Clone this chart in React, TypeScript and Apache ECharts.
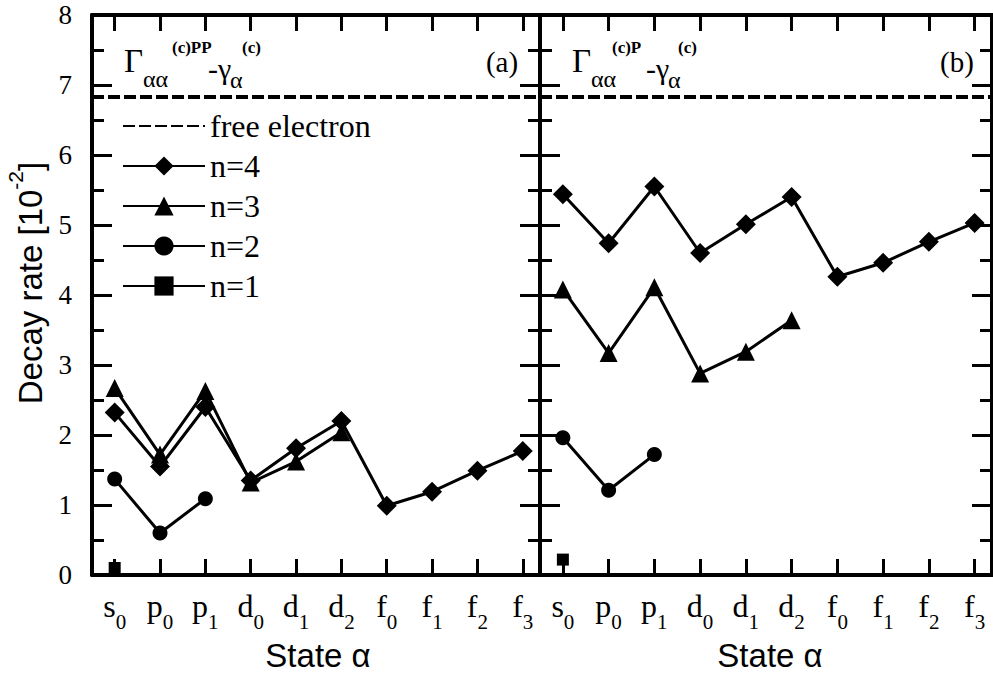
import React, { useEffect, useRef } from "react";
import * as echarts from "echarts";

// Orbital states on the horizontal axis: letter + subscript index
const stateLetters = ["s", "p", "p", "d", "d", "d", "f", "f", "f", "f"];
const stateIndices = ["0", "0", "1", "0", "1", "2", "0", "1", "2", "3"];
const statePositions = [0, 1, 2, 3, 4, 5, 6, 7, 8, 9];

// Free-electron reference decay rate [10^-2]
const freeElectron = 6.83;

// Panel (a): Γ_αα^(c)PP − γ_α^(c)
const ppN4 = [2.32, 1.55, 2.4, 1.35, 1.81, 2.2, 0.99, 1.19, 1.49, 1.77];
const ppN3 = [2.67, 1.72, 2.63, 1.32, 1.62, 2.04];
const ppN2 = [1.37, 0.6, 1.09];
const ppN1 = [0.1];

// Panel (b): Γ_αα^(c)P − γ_α^(c)
const pN4 = [5.44, 4.74, 5.55, 4.6, 5.01, 5.4, 4.26, 4.46, 4.76, 5.03];
const pN3 = [4.08, 3.17, 4.11, 2.88, 3.19, 3.64];
const pN2 = [1.96, 1.21, 1.72];
const pN1 = [0.22];

const seriesNames = ["n=4", "n=3", "n=2", "n=1"];
const seriesSymbols = ["diamond", "triangle", "circle", "rect"];
const seriesSymbolSizes = [20, 18, 15, 12];

const SERIF = '"Liberation Serif", "Times New Roman", serif';
const SANS = '"Liberation Sans", Arial, sans-serif';
const INK = "#000";

function toPoints(values: number[]): number[][] {
  return values.map((v, i) => [i, v]);
}

function xAxisPair(gridIndex: number) {
  const common = {
    type: "value" as const,
    gridIndex,
    min: -0.5,
    max: 9.38,
    axisLine: { show: true, onZero: false, lineStyle: { color: INK, width: 4 } },
    axisTick: {
      show: true,
      inside: true,
      length: 16,
      customValues: statePositions,
      lineStyle: { color: INK, width: 3 },
    },
    splitLine: { show: false },
  };
  return [
    {
      ...common,
      position: "bottom",
      axisLabel: {
        show: true,
        customValues: statePositions,
        margin: 5,
        color: INK,
        formatter: (v: number) => {
          const i = Math.round(v);
          return `{m|${stateLetters[i]}}{s|${stateIndices[i]}}`;
        },
        rich: {
          m: { fontFamily: SERIF, fontSize: 32, lineHeight: 52, color: INK },
          s: {
            fontFamily: SERIF,
            fontSize: 21,
            lineHeight: 21,
            verticalAlign: "bottom",
            color: INK,
          },
        },
      },
    },
    {
      ...common,
      position: "top",
      axisLabel: { show: false },
    },
  ];
}

function yAxisPair(gridIndex: number, withLabels: boolean) {
  const common = {
    type: "value" as const,
    gridIndex,
    min: 0,
    max: 8,
    interval: 1,
    axisLine: { show: true, onZero: false, lineStyle: { color: INK, width: 4 } },
    axisTick: { show: true, inside: true, length: 20, lineStyle: { color: INK, width: 3 } },
    minorTick: { show: true, splitNumber: 2, length: 12, lineStyle: { color: INK, width: 3 } },
    splitLine: { show: false },
    minorSplitLine: { show: false },
  };
  return [
    {
      ...common,
      position: "left",
      axisLabel: {
        show: withLabels,
        margin: 20,
        color: INK,
        fontFamily: SERIF,
        fontSize: 27,
      },
    },
    { ...common, position: "right", axisLabel: { show: false } },
  ];
}

function panelSeries(gridIndex: number, values: number[][]) {
  const xAxisIndex = gridIndex * 2;
  const yAxisIndex = gridIndex * 2;
  const list: any[] = [
    {
      name: "free electron",
      type: "line",
      xAxisIndex,
      yAxisIndex,
      data: [],
      symbol: "none",
      itemStyle: { color: "rgba(0,0,0,0)", borderWidth: 0 },
      lineStyle: { color: INK, width: 4, type: [12, 4] },
      markLine: {
        silent: true,
        symbol: ["none", "none"],
        label: { show: false },
        lineStyle: { color: INK, width: 4, type: [12, 4] },
        emphasis: { disabled: true },
        data: [{ yAxis: freeElectron }],
      },
    },
  ];
  values.forEach((vals, k) => {
    list.push({
      name: seriesNames[k],
      type: "line",
      xAxisIndex,
      yAxisIndex,
      data: toPoints(vals),
      symbol: seriesSymbols[k],
      symbolSize: seriesSymbolSizes[k],
      showAllSymbol: true,
      lineStyle: { color: INK, width: 3 },
      itemStyle: { color: INK, borderWidth: 0 },
      emphasis: { disabled: true },
      z: 3,
    });
  });
  return list;
}

function txt(
  text: string,
  x: number,
  y: number,
  size: number,
  opts: { align?: string; weight?: string; family?: string } = {}
) {
  return {
    type: "text",
    x,
    y,
    silent: true,
    style: {
      text,
      fill: INK,
      fontFamily: opts.family || SERIF,
      fontSize: size,
      fontWeight: opts.weight || "normal",
      align: opts.align || "left",
      verticalAlign: "middle",
    },
  };
}

export default function App() {
  const ref = useRef<HTMLDivElement>(null);

  useEffect(() => {
    if (!ref.current) return;
    const chart = echarts.init(ref.current, undefined, { renderer: "svg" });

    const option: any = {
      animation: false,
      backgroundColor: "#fff",
      grid: [
        { left: 92, top: 15, width: 448, height: 560, outerBoundsMode: "none" },
        { left: 540, top: 15, width: 452, height: 560, outerBoundsMode: "none" },
      ],
      xAxis: [...xAxisPair(0), ...xAxisPair(1)],
      yAxis: [...yAxisPair(0, true), ...yAxisPair(1, false)],
      legend: {
        show: true,
        orient: "vertical",
        left: 117,
        top: 105,
        itemWidth: 82,
        itemHeight: 24,
        itemGap: 8,
        selectedMode: false,
        data: ["free electron", ...seriesNames],
        textStyle: { color: INK, fontFamily: SERIF, fontSize: 32, lineHeight: 24 },
      },
      series: [
        ...panelSeries(0, [ppN4, ppN3, ppN2, ppN1]),
        ...panelSeries(1, [pN4, pN3, pN2, pN1]),
      ],
      graphic: [
        // panel (a) label
        txt("Γ", 124, 61, 33),
        txt("αα", 143, 79, 24),
        txt("(c)PP", 172, 47, 17, { weight: "bold" }),
        txt("-γ", 208, 68, 30),
        txt("α", 230, 80, 24),
        txt("(c)", 242, 47, 17, { weight: "bold" }),
        txt("(a)", 502, 62, 29, { align: "center" }),
        // panel (b) label
        txt("Γ", 572, 61, 33),
        txt("αα", 591, 79, 24),
        txt("(c)P", 612, 47, 17, { weight: "bold" }),
        txt("-γ", 646, 68, 30),
        txt("α", 668, 80, 24),
        txt("(c)", 678, 47, 17, { weight: "bold" }),
        txt("(b)", 957, 62, 29, { align: "center" }),
        // axis titles
        txt("State α", 318, 655, 33, { align: "center", family: SANS }),
        txt("State α", 770, 655, 33, { align: "center", family: SANS }),
        {
          type: "text",
          x: 30,
          y: 283,
          rotation: Math.PI / 2,
          silent: true,
          style: {
            text: "Decay rate [10{sup|-2}]",
            fill: INK,
            fontFamily: SANS,
            fontSize: 33,
            lineHeight: 50,
            align: "center",
            verticalAlign: "middle",
            rich: {
              sup: { fontFamily: SANS, fontSize: 21, lineHeight: 20, verticalAlign: "top", fill: INK },
            },
          },
        },
      ],
    };

    chart.setOption(option);
    return () => chart.dispose();
  }, []);

  return (
    <div
      ref={ref}
      style={{ position: "fixed", left: 0, top: 0, width: 993, height: 678, background: "#fff" }}
    />
  );
}
